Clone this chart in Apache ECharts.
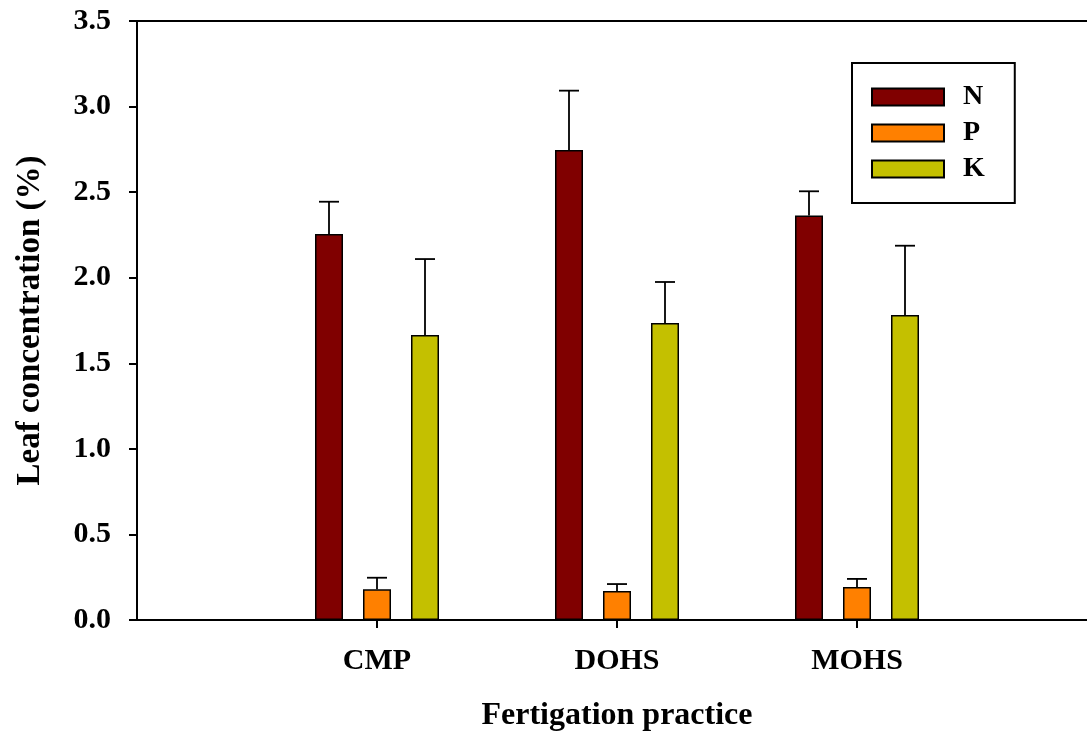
<!DOCTYPE html>
<html>
<head>
<meta charset="utf-8">
<script src="https://cdn.jsdelivr.net/npm/echarts@6/dist/echarts.min.js"></script>
<style>html,body{margin:0;padding:0;background:#fff;}#chart{width:1087px;height:732px;}</style>
</head>
<body>
<div id="chart"></div>
<script>
const categories = ['CMP', 'DOHS', 'MOHS'];
const seriesNames = ['N', 'P', 'K'];
const nValues = [2.255, 2.746, 2.363];
const pValues = [0.179, 0.169, 0.193];
const kValues = [1.665, 1.735, 1.782];
const nErrTop = [2.444, 3.093, 2.505];
const pErrTop = [0.247, 0.210, 0.240];
const kErrTop = [2.109, 1.975, 2.187];
const yTicks = [0, 0.5, 1.0, 1.5, 2.0, 2.5, 3.0, 3.5];

const colors = ['#800000', '#FF8000', '#C4C000'];
const FONT = "'Liberation Serif', 'Times New Roman', serif";
const BAR_W = 28, BAR_STEP = 48;

const axisCats = [''].concat(categories, ['']);
function pad(arr) { return [null].concat(arr, [null]); }

const values = [nValues, pValues, kValues];
const errs = [nErrTop, pErrTop, kErrTop];

const series = [];
seriesNames.forEach((name, i) => {
  series.push({
    name: name,
    type: 'bar',
    data: pad(values[i]),
    barWidth: BAR_W,
    barGap: ((BAR_STEP - BAR_W) / BAR_W * 100).toFixed(2) + '%',
    itemStyle: { color: colors[i], borderColor: '#000', borderWidth: 1.5 },
    silent: true,
    z: 2
  });
});
seriesNames.forEach((name, i) => {
  const data = [];
  categories.forEach((c, j) => data.push([j + 1, values[i][j], errs[i][j]]));
  series.push({
    type: 'custom',
    silent: true,
    z: 3,
    data: data,
    encode: { x: 0, y: [1, 2] },
    renderItem: function (params, api) {
      const x = api.value(0);
      const base = api.coord([x, api.value(1)]);
      const top = api.coord([x, api.value(2)]);
      const cx = base[0] + (i - 1) * BAR_STEP;
      const hw = 10;
      return {
        type: 'group',
        children: [
          { type: 'line', shape: { x1: cx, y1: base[1], x2: cx, y2: top[1] }, style: { stroke: '#000', lineWidth: 1.8 } },
          { type: 'line', shape: { x1: cx - hw, y1: top[1], x2: cx + hw, y2: top[1] }, style: { stroke: '#000', lineWidth: 1.8 } }
        ]
      };
    }
  });
});

const chart = echarts.init(document.getElementById('chart'));
chart.setOption({
  animation: false,
  backgroundColor: '#fff',
  grid: { left: 137, top: 21, bottom: 112, right: -10, show: true, borderColor: '#000', borderWidth: 2, containLabel: false, outerBoundsMode: 'none' },
  legend: {
    data: seriesNames,
    orient: 'vertical',
    left: 852,
    top: 63,
    icon: 'rect',
    itemWidth: 72,
    itemHeight: 17,
    itemGap: 8,
    padding: [20, 30, 20, 19],
    borderColor: '#000',
    borderWidth: 2,
    textStyle: { fontFamily: FONT, fontWeight: 'bold', fontSize: 28, color: '#000', padding: [0, 0, 0, 14] },
    selectedMode: false
  },
  xAxis: {
    type: 'category',
    data: axisCats,
    boundaryGap: false,
    name: 'Fertigation practice',
    nameLocation: 'middle',
    nameGap: 80,
    nameTextStyle: { fontFamily: FONT, fontWeight: 'bold', fontSize: 32, color: '#000' },
    axisLine: { show: true, lineStyle: { color: '#000', width: 2 } },
    axisTick: { show: true, length: 8, lineStyle: { color: '#000', width: 2 }, interval: function (idx, val) { return val !== ''; } },
    axisLabel: { interval: 0, margin: 26, fontFamily: FONT, fontWeight: 'bold', fontSize: 30, color: '#000' },
    splitLine: { show: false }
  },
  yAxis: {
    type: 'value',
    min: yTicks[0],
    max: yTicks[yTicks.length - 1],
    interval: 0.5,
    name: 'Leaf concentration (%)',
    nameLocation: 'middle',
    nameGap: 90,
    nameTextStyle: { fontFamily: FONT, fontWeight: 'bold', fontSize: 33, color: '#000' },
    axisLine: { show: true, lineStyle: { color: '#000', width: 2 } },
    axisTick: { show: true, length: 8, inside: false, lineStyle: { color: '#000', width: 2 } },
    axisLabel: { margin: 26, fontFamily: FONT, fontWeight: 'bold', fontSize: 30, color: '#000', formatter: v => v.toFixed(1) },
    splitLine: { show: false }
  },
  series: series
});
</script>
</body>
</html>
